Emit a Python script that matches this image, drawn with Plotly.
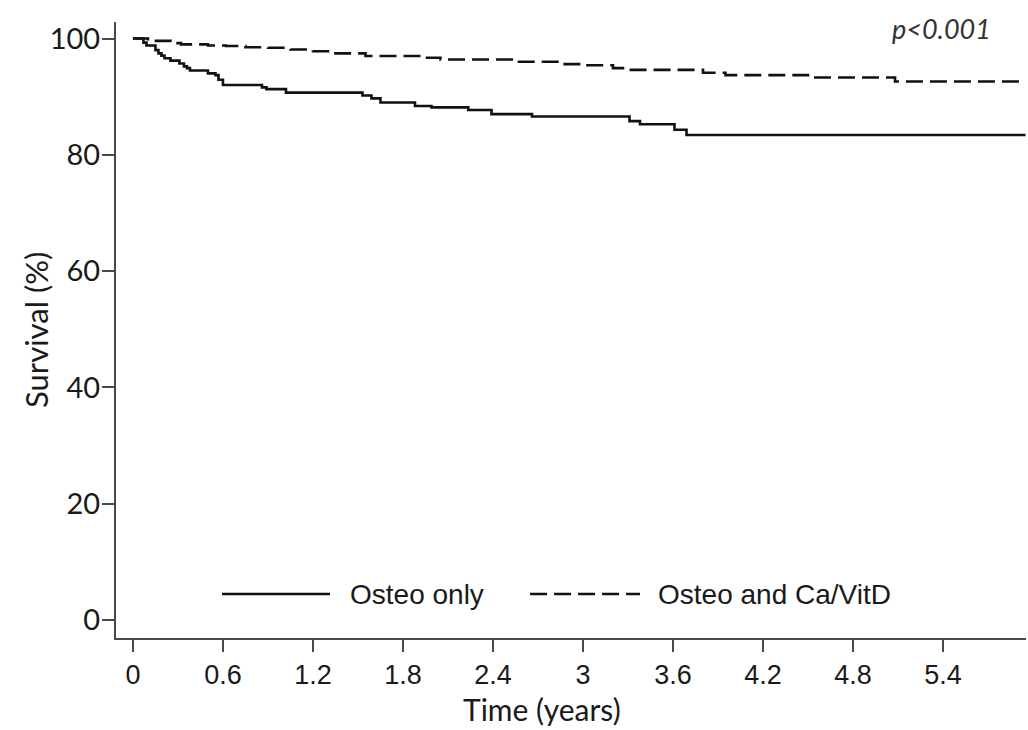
import plotly.graph_objects as go

# Kaplan-Meier step data: event times (years) and survival (%) after each step
osteo_only_t = [0, 0.07, 0.09, 0.15, 0.17, 0.19, 0.21, 0.25, 0.31, 0.34, 0.36, 0.38,
                0.50, 0.55, 0.57, 0.60, 0.86, 0.89, 1.02, 1.53, 1.59, 1.65, 1.88,
                1.99, 2.235, 2.39, 2.66, 3.31, 3.38, 3.61, 3.69, 5.95]
osteo_only_s = [100, 99.3, 98.8, 98.0, 97.45, 97.05, 96.6, 96.2, 95.7, 95.2, 94.9, 94.5,
                94.0, 93.7, 92.9, 92.0, 91.6, 91.3, 90.7, 90.2, 89.7, 89.0, 88.4,
                88.15, 87.7, 87.0, 86.6, 85.8, 85.25, 84.3, 83.4, 83.4]

osteo_cavitd_t = [0, 0.10, 0.25, 0.32, 0.50, 0.62, 0.75, 0.90, 1.05, 1.20, 1.30, 1.55,
                  1.93, 2.05, 2.55, 2.85, 3.00, 3.20, 3.30, 3.80, 3.95, 4.50, 5.08, 5.95]
osteo_cavitd_s = [100, 99.6, 99.2, 99.0, 98.8, 98.7, 98.5, 98.4, 98.1, 97.8, 97.45, 97.0,
                  96.7, 96.4, 96.0, 95.6, 95.4, 94.9, 94.6, 94.1, 93.7, 93.3, 92.6, 92.6]

x_ticks = [0, 0.6, 1.2, 1.8, 2.4, 3, 3.6, 4.2, 4.8, 5.4]
x_tick_text = ["0", "0.6", "1.2", "1.8", "2.4", "3", "3.6", "4.2", "4.8", "5.4"]
y_ticks = [0, 20, 40, 60, 80, 100]

series_names = ["Osteo only", "Osteo and Ca/VitD"]
p_text = "p<0.001"

AXIS_COLOR = "#4a4a4a"
CURVE_COLOR = "#111111"
DASH = "17px,7px"

fig = go.Figure()
fig.add_trace(go.Scatter(x=osteo_only_t, y=osteo_only_s, mode="lines", line_shape="hv",
                         name=series_names[0],
                         line=dict(color=CURVE_COLOR, width=2.6), showlegend=False))
fig.add_trace(go.Scatter(x=osteo_cavitd_t, y=osteo_cavitd_s, mode="lines", line_shape="hv",
                         name=series_names[1],
                         line=dict(color=CURVE_COLOR, width=2.6, dash=DASH), showlegend=False))

# Legend drawn inside the plot, along the bottom
legend_y = 0.0714
fig.add_shape(type="line", xref="paper", yref="paper", x0=0.1165, x1=0.2352,
              y0=legend_y, y1=legend_y, line=dict(color=CURVE_COLOR, width=2.6))
fig.add_shape(type="line", xref="paper", yref="paper", x0=0.455, x1=0.5758,
              y0=legend_y, y1=legend_y, line=dict(color=CURVE_COLOR, width=2.6, dash=DASH))
legend_font = dict(family="Liberation Sans, Arial", size=28, color="#1a1a1a")
fig.add_annotation(text=series_names[0], xref="paper", yref="paper", x=0.255, y=legend_y,
                   xanchor="left", yanchor="middle", showarrow=False, font=legend_font)
fig.add_annotation(text=series_names[1], xref="paper", yref="paper", x=0.5934, y=legend_y,
                   xanchor="left", yanchor="middle", showarrow=False, font=legend_font)

# p-value in the top right corner
fig.add_annotation(text="<i>" + p_text + "</i>", xref="paper", yref="paper", x=0.9637, y=0.99,
                   xanchor="right", yanchor="middle", showarrow=False,
                   font=dict(family="Lato", size=27, color="#333333"))

# Axis titles
fig.add_annotation(text="Time (years)", xref="paper", yref="paper", x=0.468, y=-0.1153,
                   xanchor="center", yanchor="middle", showarrow=False,
                   font=dict(family="Lato", size=30, color="#1a1a1a"))
fig.add_annotation(text="Survival (%)", xref="paper", yref="paper", x=-0.088, y=0.5,
                   xanchor="center", yanchor="middle", textangle=-90, showarrow=False,
                   font=dict(family="Lato", size=31, color="#1a1a1a"))

fig.update_xaxes(range=[-0.113, 5.953], tickvals=x_ticks, ticktext=x_tick_text,
                 showgrid=False, zeroline=False, showline=True, linecolor=AXIS_COLOR,
                 linewidth=2, ticks="outside", ticklen=12, tickwidth=2, tickcolor=AXIS_COLOR,
                 tickfont=dict(family="Liberation Sans, Arial", size=27, color="#1a1a1a"))
fig.update_yaxes(range=[-3.1, 102.84], tickvals=y_ticks,
                 showgrid=False, zeroline=False, showline=True, linecolor=AXIS_COLOR,
                 linewidth=2, ticks="outside", ticklen=12, tickwidth=2, tickcolor=AXIS_COLOR,
                 ticklabelstandoff=-4,
                 tickfont=dict(family="Lato", size=29, color="#1a1a1a"))

fig.update_layout(width=1028, height=730,
                  margin=dict(l=116, r=2, t=22, b=92),
                  paper_bgcolor="white", plot_bgcolor="white",
                  showlegend=False)

fig.write_html("out.html")
